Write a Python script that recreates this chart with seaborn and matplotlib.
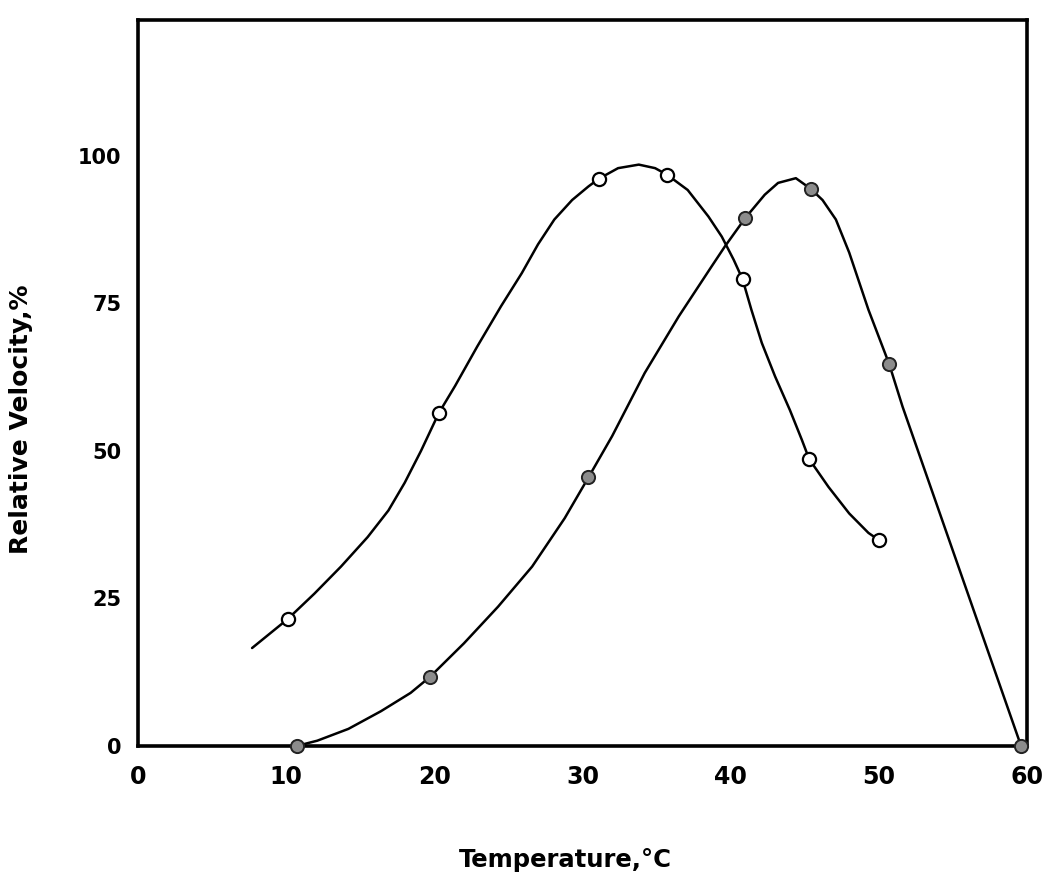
import numpy as np
import pandas as pd
import matplotlib
matplotlib.use("Agg")
import matplotlib.pyplot as plt
import seaborn as sns

# ---- data ----
# measured points (open circles)
open_x = [10.1, 20.3, 31.1, 35.7, 40.8, 45.3, 50.0]
open_y = [21.5, 56.4, 96.1, 96.8, 79.1, 48.6, 34.9]
# measured points (filled circles)
filled_x = [10.7, 19.7, 30.4, 41.0, 45.4, 50.7, 59.6]
filled_y = [0.0, 11.7, 45.5, 89.5, 94.4, 64.7, 0.0]

# hand-drawn curves
open_curve_x = [7.7, 10.1, 11.9, 13.7, 15.5, 16.9, 18.0, 19.1, 20.3, 21.4, 22.9,
                24.5, 25.9, 27.0, 28.1, 29.3, 30.4, 31.1, 32.4, 33.8, 34.9, 35.7,
                37.1, 38.5, 39.4, 40.2, 40.8, 41.4, 42.1, 43.0, 44.0, 44.8, 45.3,
                46.6, 48.0, 49.3, 50.0]
open_curve_y = [16.6, 21.5, 25.8, 30.4, 35.4, 39.9, 44.6, 50.0, 56.4, 61.0, 67.7,
                74.5, 80.1, 85.0, 89.2, 92.5, 94.8, 96.1, 97.9, 98.5, 97.9, 96.8,
                94.2, 89.7, 86.3, 82.4, 79.1, 73.9, 68.3, 62.6, 56.9, 51.9, 48.6,
                43.9, 39.4, 36.1, 34.9]
filled_curve_x = [10.7, 12.1, 14.2, 16.4, 18.4, 19.7, 22.0, 24.3, 26.6, 28.8,
                  30.4, 32.0, 34.2, 36.5, 38.7, 39.6, 41.0, 42.3, 43.2, 44.4, 45.4,
                  46.2, 47.1, 48.0, 49.3, 50.7, 51.6, 59.6]
filled_curve_y = [0.0, 0.9, 2.9, 5.9, 9.0, 11.7, 17.4, 23.6, 30.4, 38.6,
                  45.5, 52.5, 63.2, 72.8, 81.2, 84.6, 89.5, 93.4, 95.4, 96.2, 94.4,
                  92.5, 89.2, 83.6, 73.9, 64.7, 57.5, 0.0]

x_ticks = [0, 10, 20, 30, 40, 50, 60]
y_ticks = [0, 25, 50, 75, 100]
x_label = "Temperature,°C"
y_label = "Relative Velocity,%"

sns.set_style("white")
plt.rcParams['font.family'] = ['DejaVu Sans']
plt.rcParams['text.color'] = 'black'
plt.rcParams['axes.labelcolor'] = 'black'
plt.rcParams['xtick.color'] = 'black'
plt.rcParams['ytick.color'] = 'black'

fig = plt.figure(figsize=(10.45, 8.85), dpi=100)
ax = fig.add_axes([138 / 1045, 139 / 885, 889 / 1045, 726 / 885])

sns.lineplot(x=open_curve_x, y=open_curve_y, ax=ax, sort=False, estimator=None,
             color="black", linewidth=1.8, zorder=2)
sns.lineplot(x=filled_curve_x, y=filled_curve_y, ax=ax, sort=False, estimator=None,
             color="black", linewidth=1.8, zorder=2)
sns.scatterplot(x=open_x, y=open_y, ax=ax, marker="o", s=90, color="white",
                edgecolor="black", linewidth=1.6, zorder=3, clip_on=False)
sns.scatterplot(x=filled_x, y=filled_y, ax=ax, marker="o", s=90, color="#8c8c8c",
                edgecolor="#222222", linewidth=1.4, zorder=3, clip_on=False)

ax.set_xlim(0, 60)
ax.set_ylim(0, 123)
ax.set_xticks(x_ticks)
ax.set_yticks(y_ticks)
ax.set_xticklabels([str(v) for v in x_ticks], fontsize=17, fontweight="bold")
ax.set_yticklabels([str(v) for v in y_ticks], fontsize=15, fontweight="bold")
ax.tick_params(axis="both", direction="out", length=8, width=1.8, color="black", pad=4)
ax.tick_params(axis="x", pad=6)

for s in ax.spines.values():
    s.set_visible(True)
    s.set_color("black")
    s.set_linewidth(2.6)

ax.set_xlabel(x_label, fontsize=17.5, fontweight="bold")
ax.set_ylabel(y_label, fontsize=18, fontweight="bold")
ax.xaxis.set_label_coords(0.481, -0.140)
ax.yaxis.set_label_coords(-0.118, 0.45)

fig.savefig("out.png", dpi=100, facecolor="white")
